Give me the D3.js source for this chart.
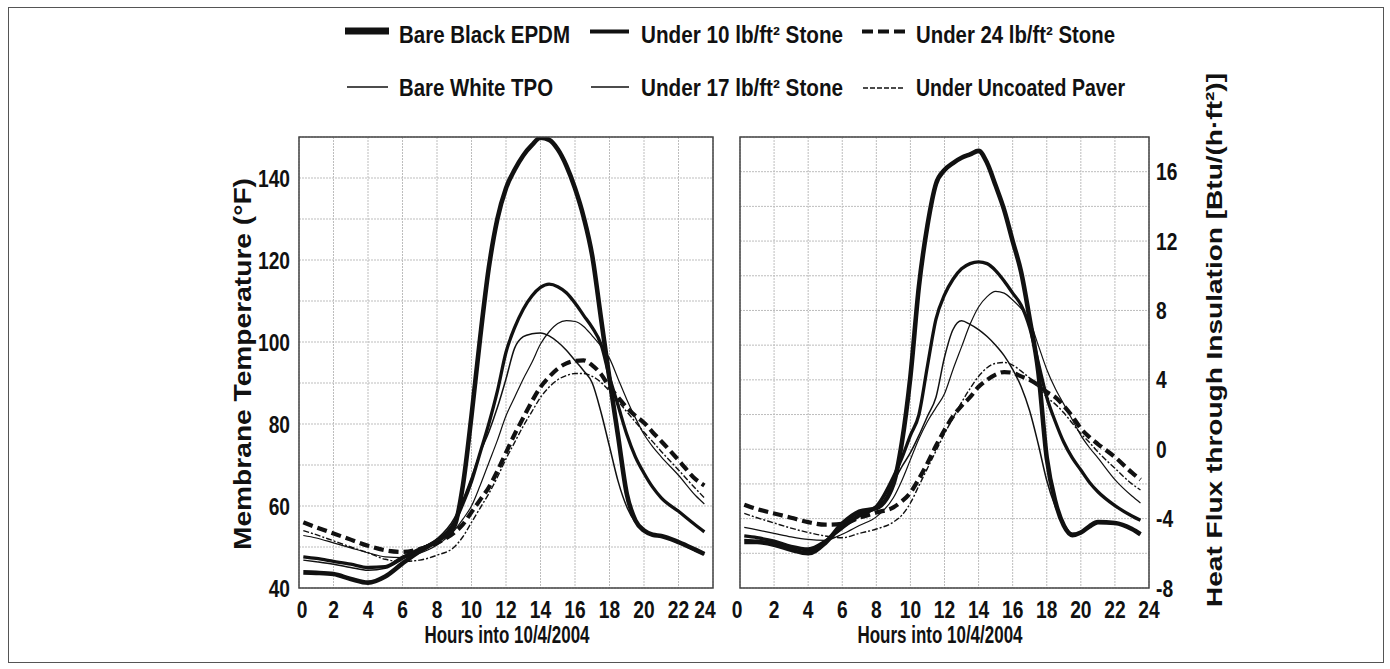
<!DOCTYPE html>
<html><head><meta charset="utf-8">
<script src="https://cdn.jsdelivr.net/npm/d3@7"></script>
<style>body{margin:0;background:#fff}svg{display:block}</style>
</head><body><svg id="c" width="1390" height="669"></svg>
<script>
// ---------------- data ----------------
const hours = [0.25,1,2,3,4,5,6,7,8,9, 9.5,10,10.5,11,11.5,12,12.5,13,13.5,14, 14.5,15,15.5,16,16.5,17,17.5,18,18.5,19, 19.5,20,20.5,21,22,23,23.5];
const seriesNames = ["Bare Black EPDM","Under 10 lb/ft² Stone","Under 24 lb/ft² Stone","Bare White TPO","Under 17 lb/ft² Stone","Under Uncoated Paver"];

// Membrane temperature (°F)
const tempBareBlack = [43.8,43.7,43.4,42.2,41.3,42.8,46,49,51.5,55, 65,82,101,118,130,137.5,142,145.5,148,149.8, 149.3,147,143,137.5,130.5,121,106,91,77,63, 56.5,54,53,52.7,51.2,49.3,48.3];
const tempUnder10   = [47.6,47.2,46.5,45.8,45,45.2,47.5,49.5,51.5,56, 60.5,66,73,80,88,97.5,103.5,108,111.2,113.3, 114.1,113.5,112,109.5,106.5,103.5,99.5,91.5,84.5,77.5, 72,68,64.6,62,58.7,55.3,53.7];
const tempUnder24   = [56,54.8,53.3,51.8,50.3,49.2,48.8,49.5,51,53.5, 55.5,58.5,61.5,64.5,68.5,73,77.5,81.5,85.5,89, 91.5,93.5,94.8,95.4,95.5,94.3,92.2,89,86.5,84, 82,80.3,78,75.8,71.2,66.5,65];
const tempBareWhite = [46.8,46.4,45.8,45,44.3,44.8,47,49.5,52,57, 61.5,67,73,78,84,91,98.5,101.3,102,102.2, 101.5,100,98,95.5,93,90,83,74.5,66,59.8, 56,53.8,52.8,52.5,51,49,48.2];
const tempUnder17   = [52.8,52.2,51,49.8,48.6,47.6,47.4,48.5,50.5,54, 56.8,60,65,70.5,76,82,86.5,91,95,99.5, 102.5,104.5,105.2,105,103.8,101.5,99,96,91,86, 81.5,77.5,74.5,72,67.5,62.5,60.5];
const tempPaver     = [54,53,51.5,50,48.6,47,46.5,46.8,48,50, 52.5,56,59.5,63,67,71.5,75.5,79.5,83,86.5, 89,90.8,91.8,92.3,92.3,91.6,90.2,88,85.5,83, 80.5,78,75.7,73.3,68.8,64.2,62];

// Heat flux through insulation (Btu/(h·ft²))
const fluxBareBlack = [-5.35,-5.35,-5.5,-5.8,-6.0,-5.4,-4.3,-3.6,-3.4,-2.0, 0.4,4.2,9.4,12.9,15.3,16.1,16.5,16.8,17.0,17.2, 16.5,15.2,13.8,12.0,10.2,7.5,4.5,-0.5,-3.0,-4.4, -4.95,-4.8,-4.45,-4.2,-4.25,-4.6,-4.9];
const fluxUnder10   = [-5.0,-5.1,-5.3,-5.6,-5.75,-5.3,-4.5,-3.8,-3.3,-1.6, -0.5,0.8,2.0,4.8,7.5,8.9,9.8,10.4,10.7,10.8, 10.7,10.3,9.7,9.0,8.3,7.0,5.0,3.0,1.6,0.4, -0.5,-1.2,-1.9,-2.45,-3.25,-3.85,-4.1];
const fluxUnder24   = [-3.2,-3.45,-3.7,-3.95,-4.2,-4.35,-4.3,-3.95,-3.65,-3.35, -3.0,-2.5,-1.7,-0.8,0.2,1.1,1.9,2.5,3.0,3.6, 4.0,4.3,4.45,4.4,4.2,4.0,3.7,3.3,3.0,2.5, 1.9,1.2,0.7,0.3,-0.45,-1.35,-1.75];
const fluxBareWhite = [-5.2,-5.25,-5.4,-5.65,-5.85,-5.35,-4.6,-3.9,-3.35,-1.9, -1.0,-0.2,0.8,1.9,3.0,5.3,6.9,7.4,7.2,6.9, 6.5,6.0,5.4,4.6,3.6,2.2,0.3,-1.8,-3.3,-4.3, -4.85,-4.8,-4.45,-4.2,-4.25,-4.6,-4.9];
const fluxUnder17   = [-4.5,-4.65,-4.85,-5.05,-5.2,-5.25,-4.9,-4.4,-3.9,-2.8, -1.8,-0.6,0.6,1.6,2.4,3.2,4.6,5.9,7.2,8.2, 8.8,9.1,9.0,8.6,8.1,7.4,6.0,4.6,3.5,2.6, 1.7,0.8,0.1,-0.5,-1.75,-2.7,-3.1];
const fluxPaver     = [-3.7,-3.95,-4.25,-4.55,-4.8,-5.0,-5.1,-4.85,-4.6,-4.2, -3.8,-3.1,-2.1,-1.1,-0.1,0.9,1.8,2.7,3.5,4.2, 4.7,4.95,5.0,4.85,4.5,4.1,3.6,3.0,2.6,2.1, 1.5,0.9,0.4,-0.15,-1.1,-2.0,-2.35];

const hourTicks = [0,2,4,6,8,10,12,14,16,18,20,22,24];
const tempTicks = [40,60,80,100,120,140];
const fluxTicks = [-8,-4,0,4,8,12,16];
const xTitle = "Hours into 10/4/2004";
const yTitleLeft = "Membrane Temperature (°F)";
const yTitleRight = "Heat Flux through Insulation [Btu/(h·ft²)]";

// ---------------- styles ----------------
const lineStyle = {
  "Bare Black EPDM":       {w:4.6, dash:null, lw:7},
  "Under 10 lb/ft² Stone": {w:3.3, dash:null, lw:4},
  "Under 24 lb/ft² Stone": {w:4.2, dash:"10,5", lw:4, ldash:"11,5"},
  "Bare White TPO":        {w:1.5, dash:null, lw:1.6},
  "Under 17 lb/ft² Stone": {w:1.2, dash:null, lw:1.4},
  "Under Uncoated Paver":  {w:1.4, dash:"6,2,2,2", lw:1.4, ldash:"5,2"}
};
const FONT = "'Liberation Sans', Arial, Helvetica, sans-serif";
const svg = d3.select("#c");

function txt(g, s, x, y, o) {
  o = o || {};
  let tr = `translate(${x},${y})`;
  if (o.rot) tr += ` rotate(${o.rot})`;
  if (o.sx) tr += ` scale(${o.sx},1)`;
  const t = g.append("text").attr("transform", tr)
    .attr("font-family", FONT).attr("font-weight", "bold")
    .attr("font-size", o.size || 20).attr("fill", "#111")
    .attr("text-anchor", o.anchor || "start").text(s);
  if (o.len) t.attr("textLength", o.len).attr("lengthAdjust", "spacingAndGlyphs");
  return t;
}

// outer frame
svg.append("rect").attr("x", 8.5).attr("y", 7.5).attr("width", 1375).attr("height", 655)
  .attr("fill", "none").attr("stroke", "#555").attr("stroke-width", 1);

function panel(x0, x1, y0, y1, yDomain, gridStep, data, id) {
  const x = d3.scaleLinear().domain([0, 24]).range([x0, x1]);
  const y = d3.scaleLinear().domain(yDomain).range([y1, y0]);
  const g = svg.append("g");
  const grid = g.append("g").attr("stroke", "#bdbdbd").attr("stroke-width", 1).attr("stroke-dasharray", "2,1");
  hourTicks.forEach(h => grid.append("line").attr("x1", x(h)).attr("x2", x(h)).attr("y1", y0).attr("y2", y1));
  d3.range(yDomain[0], yDomain[1] + 0.001, gridStep).forEach(v =>
    grid.append("line").attr("x1", x0).attr("x2", x1).attr("y1", y(v)).attr("y2", y(v)));
  g.append("clipPath").attr("id", id).append("rect").attr("x", x0).attr("y", y0).attr("width", x1 - x0).attr("height", y1 - y0);
  const line = d3.line().x(d => x(d[0])).y(d => y(d[1])).curve(d3.curveMonotoneX);
  const order = [5, 4, 2, 3, 1, 0];
  const lg = g.append("g").attr("clip-path", `url(#${id})`);
  order.forEach(i => {
    const st = lineStyle[seriesNames[i]];
    lg.append("path").datum(hours.map((h, k) => [h, data[i][k]]))
      .attr("d", line).attr("fill", "none").attr("stroke", "#111")
      .attr("stroke-width", st.w).attr("stroke-linejoin", "round")
      .attr("stroke-dasharray", st.dash);
  });
  g.append("rect").attr("x", x0).attr("y", y0).attr("width", x1 - x0).attr("height", y1 - y0)
    .attr("fill", "none").attr("stroke", "#444").attr("stroke-width", 1.5);
  return {x, y, g};
}

const L = panel(299, 713, 137, 588, [40, 150], 10,
  [tempBareBlack, tempUnder10, tempUnder24, tempBareWhite, tempUnder17, tempPaver], "clipL");
const R = panel(740, 1149, 137, 588, [-8, 18], 2,
  [fluxBareBlack, fluxUnder10, fluxUnder24, fluxBareWhite, fluxUnder17, fluxPaver], "clipR");

// tick labels
tempTicks.forEach(v => txt(svg, String(v), 290, L.y(v) + 8.5, {size: 24, anchor: "end", sx: 0.8}));
fluxTicks.forEach(v => txt(svg, String(v), 1156, R.y(v) + 8.5, {size: 24, anchor: "start", sx: 0.8}));
hourTicks.forEach(h => {
  let dx = 0;
  if (h === 0) dx = 3; if (h === 24) dx = -8;
  txt(svg, String(h), L.x(h) + dx, 618, {size: 24, anchor: "middle", sx: 0.8});
  txt(svg, String(h), R.x(h) + (h === 0 ? -3 : 0), 618, {size: 24, anchor: "middle", sx: 0.8});
});

// axis titles
txt(svg, xTitle, 507, 643, {size: 23, anchor: "middle", len: 165});
txt(svg, xTitle, 940, 643, {size: 23, anchor: "middle", len: 165});
txt(svg, yTitleLeft, 251, 364, {size: 24, anchor: "middle", rot: -90, len: 372});
txt(svg, yTitleRight, 1222, 340, {size: 22, anchor: "middle", rot: -90, len: 534});

// legend
const legendPos = [
  {sx0: 345, sx1: 389, tx: 399, ly: 31, ty: 43, len: 171},
  {sx0: 590, sx1: 629, tx: 641, ly: 31.5, ty: 43, len: 202},
  {sx0: 862, sx1: 905, tx: 916, ly: 31.5, ty: 43, len: 199},
  {sx0: 347, sx1: 388, tx: 399, ly: 87, ty: 96, len: 154},
  {sx0: 591, sx1: 629, tx: 641, ly: 87, ty: 96, len: 202},
  {sx0: 863, sx1: 905, tx: 916, ly: 88, ty: 96, len: 209}
];
seriesNames.forEach((n, i) => {
  const p = legendPos[i], st = lineStyle[n];
  svg.append("line").attr("x1", p.sx0).attr("x2", p.sx1).attr("y1", p.ly).attr("y2", p.ly)
    .attr("stroke", "#111").attr("stroke-width", st.lw).attr("stroke-dasharray", st.ldash || null);
  txt(svg, n, p.tx, p.ty, {size: 23, len: p.len});
});
</script></body></html>
